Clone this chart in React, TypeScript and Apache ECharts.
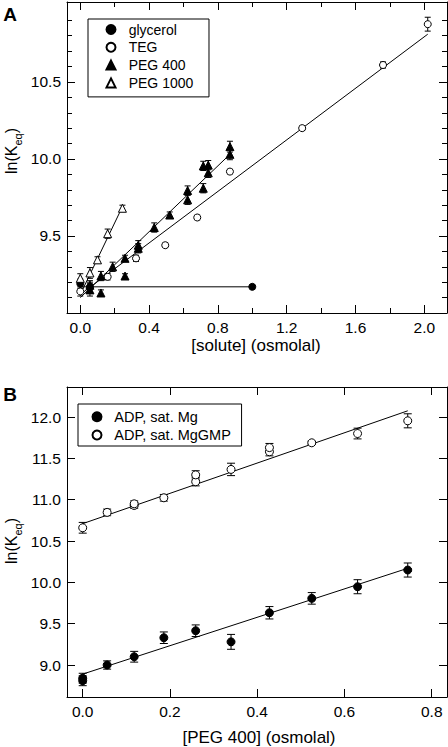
import React, { useEffect, useRef } from 'react';
import * as echarts from 'echarts';

const FONT = '"Liberation Sans", Arial, Helvetica, sans-serif';

// ---------- Panel A data ----------
const glycerolX = [0, 0.056, 1.0];
const glycerolY = [9.19, 9.17, 9.17];
const glycerolErr = [0.03, 0.03, 0.015];

const tegX = [0, 0.159, 0.324, 0.494, 0.68, 0.87, 1.29, 1.76, 2.02];
const tegY = [9.14, 9.235, 9.355, 9.44, 9.62, 9.918, 10.2, 10.61, 10.875];
const tegErr = [0.03, 0.02, 0.02, 0.015, 0.015, 0.015, 0.015, 0.02, 0.045];

const peg400X = [0.056, 0.056, 0.12, 0.12, 0.188, 0.26, 0.26, 0.337, 0.337, 0.43, 0.52, 0.624, 0.624, 0.715, 0.715, 0.744, 0.744, 0.87, 0.87];
const peg400Y = [9.18, 9.15, 9.24, 9.13, 9.3, 9.355, 9.24, 9.44, 9.42, 9.555, 9.636, 9.795, 9.735, 9.955, 9.81, 9.96, 9.91, 10.08, 10.03];
const peg400Err = [0.03, 0.04, 0.03, 0.02, 0.03, 0.02, 0.015, 0.03, 0.03, 0.03, 0.02, 0.03, 0.03, 0.03, 0.03, 0.03, 0.03, 0.035, 0.035];

const peg1000X = [0, 0.056, 0.1, 0.159, 0.245];
const peg1000Y = [9.225, 9.26, 9.345, 9.515, 9.68];
const peg1000Err = [0.03, 0.035, 0.02, 0.03, 0.02];

// fit lines (endpoints)
const glycerolFitX = [0, 1.0];
const glycerolFitY = [9.17, 9.17];
const tegFitX = [0, 2.02];
const tegFitY = [9.12, 10.81];
const peg400FitX = [0, 0.87];
const peg400FitY = [9.1, 10.03];
const peg1000FitX = [0, 0.245];
const peg1000FitY = [9.12, 9.69];

// ---------- Panel B data ----------
const mgX = [0, 0, 0.056, 0.118, 0.186, 0.259, 0.34, 0.428, 0.525, 0.63, 0.745];
const mgY = [8.81, 8.84, 9.0, 9.1, 9.33, 9.415, 9.28, 9.632, 9.806, 9.947, 10.149];
const mgErr = [0.06, 0.06, 0.05, 0.065, 0.07, 0.07, 0.09, 0.075, 0.07, 0.085, 0.085];

const gmpX = [0, 0.056, 0.118, 0.118, 0.186, 0.259, 0.259, 0.34, 0.428, 0.428, 0.525, 0.63, 0.745];
const gmpY = [10.66, 10.846, 10.93, 10.95, 11.023, 11.217, 11.3, 11.366, 11.58, 11.63, 11.688, 11.8, 11.954];
const gmpErr = [0.065, 0.04, 0.035, 0.035, 0.04, 0.05, 0.05, 0.075, 0.05, 0.05, 0.02, 0.065, 0.085];

const mgFitX = [0, 0.745];
const mgFitY = [8.89, 10.17];
const gmpFitX = [0, 0.745];
const gmpFitY = [10.71, 12.075];

// ---------- ticks ----------
const aXTicks = [0, 0.4, 0.8, 1.2, 1.6, 2.0];
const aXMinor = [0.2, 0.6, 1.0, 1.4, 1.8];
const aYTicks = [9.5, 10.0, 10.5];
const aYMinor = [9.1, 9.2, 9.3, 9.4, 9.6, 9.7, 9.8, 9.9, 10.1, 10.2, 10.3, 10.4, 10.6, 10.7, 10.8, 10.9];
const bXTicks = [0, 0.2, 0.4, 0.6, 0.8];
const bYTicks = [9.0, 9.5, 10.0, 10.5, 11.0, 11.5, 12.0];

const legendA = ['glycerol', 'TEG', 'PEG 400', 'PEG 1000'];
const legendB = ['ADP, sat. Mg', 'ADP, sat. MgGMP'];

const pairs = (xs: number[], ys: number[]) => xs.map((x, i) => [x, ys[i]]);

function axis(gridIndex: number, position: string, min: number, max: number, ticks: number[], labels: boolean, len: number, showLine: boolean) {
  return {
    type: 'value',
    gridIndex,
    position,
    min,
    max,
    scale: true,
    axisLine: { show: showLine, onZero: false, lineStyle: { color: '#000', width: 1 } },
    axisTick: { show: true, inside: true, length: len, customValues: ticks, lineStyle: { color: '#000', width: 1 } },
    axisLabel: labels
      ? { show: true, customValues: ticks, formatter: (v: number) => Number(v).toFixed(1), fontSize: 15.5, lineHeight: 16, fontFamily: FONT, color: '#000', margin: 6 }
      : { show: false },
    splitLine: { show: false },
    minorTick: { show: false },
  };
}

function errSeries(name: string, xs: number[], ys: number[], es: number[], xi: number, yi: number, cap: number) {
  return {
    type: 'custom',
    name,
    xAxisIndex: xi,
    yAxisIndex: yi,
    silent: true,
    z: 2,
    encode: { x: 0, y: 1 },
    data: xs.map((x, i) => [x, ys[i], es[i]]),
    renderItem: (params: any, api: any) => {
      const x = api.value(0);
      const y = api.value(1);
      const e = api.value(2);
      const top = api.coord([x, y + e]);
      const bot = api.coord([x, y - e]);
      const h = cap / 2;
      const st = { stroke: '#000', lineWidth: 1 };
      return {
        type: 'group',
        children: [
          { type: 'line', shape: { x1: top[0], y1: top[1], x2: bot[0], y2: bot[1] }, style: st },
          { type: 'line', shape: { x1: top[0] - h, y1: top[1], x2: top[0] + h, y2: top[1] }, style: st },
          { type: 'line', shape: { x1: bot[0] - h, y1: bot[1], x2: bot[0] + h, y2: bot[1] }, style: st },
        ],
      };
    },
  };
}

function scatter(name: string, xs: number[], ys: number[], xi: number, yi: number, symbol: string, size: number, filled: boolean) {
  return {
    type: 'scatter',
    name,
    xAxisIndex: xi,
    yAxisIndex: yi,
    data: pairs(xs, ys),
    symbol,
    symbolSize: size,
    symbolKeepAspect: true,
    z: 3,
    itemStyle: { color: filled ? '#000' : '#fff', borderColor: '#000', borderWidth: 1, opacity: 1 },
  };
}

function fit(name: string, xs: number[], ys: number[], xi: number, yi: number) {
  return {
    type: 'line',
    name,
    xAxisIndex: xi,
    yAxisIndex: yi,
    data: pairs(xs, ys),
    showSymbol: false,
    symbol: 'none',
    silent: true,
    z: 1,
    lineStyle: { color: '#000', width: 1 },
  };
}

const A_X = [-0.0773, 2.132];
const A_Y = [9.0, 11.019];
const B_X = [-0.036, 0.835];
const B_Y = [8.613, 12.363];

export default function App() {
  const ref = useRef<HTMLDivElement>(null);
  useEffect(() => {
    document.body.style.margin = '0';
    const chart = echarts.init(ref.current!, null, { renderer: 'svg' });
    const option: any = {
      animation: false,
      backgroundColor: '#fff',
      textStyle: { fontFamily: FONT },
      grid: [
        { left: 67, top: 2, width: 380, height: 311, outerBoundsMode: 'none', containLabel: false },
        { left: 67, top: 2, width: 380, height: 311, outerBoundsMode: 'none', containLabel: false },
        { left: 67, top: 387, width: 380, height: 310, outerBoundsMode: 'none', containLabel: false },
      ],
      xAxis: [
        axis(0, 'bottom', A_X[0], A_X[1], aXTicks, true, 8, true),
        axis(0, 'top', A_X[0], A_X[1], aXTicks, false, 8, true),
        axis(1, 'bottom', A_X[0], A_X[1], aXMinor, false, 5, false),
        axis(1, 'top', A_X[0], A_X[1], aXMinor, false, 5, false),
        axis(2, 'bottom', B_X[0], B_X[1], bXTicks, true, 8, true),
        axis(2, 'top', B_X[0], B_X[1], bXTicks, false, 8, true),
      ],
      yAxis: [
        axis(0, 'left', A_Y[0], A_Y[1], aYTicks, true, 8, true),
        axis(0, 'right', A_Y[0], A_Y[1], aYTicks, false, 8, true),
        axis(1, 'left', A_Y[0], A_Y[1], aYMinor, false, 5, false),
        axis(1, 'right', A_Y[0], A_Y[1], aYMinor, false, 5, false),
        axis(2, 'left', B_Y[0], B_Y[1], bYTicks, true, 8, true),
        axis(2, 'right', B_Y[0], B_Y[1], bYTicks, false, 8, true),
      ],
      legend: [
        {
          data: legendA,
          orient: 'vertical',
          left: 88,
          top: 19,
          padding: [2.5, 15.7, 6, 17.5],
          itemWidth: 9,
          itemHeight: 9,
          itemGap: 1.8,
          symbolKeepAspect: true,
          borderColor: '#000',
          borderWidth: 1,
          borderRadius: 0,
          selectedMode: false,
          textStyle: { fontSize: 14, fontFamily: FONT, color: '#000', lineHeight: 16, padding: [0, 0, 0, 8.2] },
        },
        {
          data: legendB,
          orient: 'vertical',
          left: 78,
          top: 404,
          padding: [4.7, 10.7, 3, 13.5],
          itemWidth: 9,
          itemHeight: 9,
          itemGap: 2.3,
          symbolKeepAspect: true,
          borderColor: '#000',
          borderWidth: 1,
          borderRadius: 0,
          selectedMode: false,
          textStyle: { fontSize: 14.5, fontFamily: FONT, color: '#000', lineHeight: 16, padding: [0, 0, 0, 7.8] },
        },
      ],
      series: [
        fit('glycerol fit', glycerolFitX, glycerolFitY, 0, 0),
        fit('TEG fit', tegFitX, tegFitY, 0, 0),
        fit('PEG 400 fit', peg400FitX, peg400FitY, 0, 0),
        fit('PEG 1000 fit', peg1000FitX, peg1000FitY, 0, 0),
        errSeries('glycerol err', glycerolX, glycerolY, glycerolErr, 0, 0, 6),
        errSeries('TEG err', tegX, tegY, tegErr, 0, 0, 6),
        errSeries('PEG 400 err', peg400X, peg400Y, peg400Err, 0, 0, 6),
        errSeries('PEG 1000 err', peg1000X, peg1000Y, peg1000Err, 0, 0, 6),
        scatter('glycerol', glycerolX, glycerolY, 0, 0, 'circle', 7, true),
        scatter('TEG', tegX, tegY, 0, 0, 'circle', 7, false),
        scatter('PEG 400', peg400X, peg400Y, 0, 0, 'triangle', 8, true),
        scatter('PEG 1000', peg1000X, peg1000Y, 0, 0, 'triangle', 8, false),

        fit('Mg fit', mgFitX, mgFitY, 4, 4),
        fit('MgGMP fit', gmpFitX, gmpFitY, 4, 4),
        errSeries('Mg err', mgX, mgY, mgErr, 4, 4, 8),
        errSeries('MgGMP err', gmpX, gmpY, gmpErr, 4, 4, 8),
        scatter('ADP, sat. Mg', mgX, mgY, 4, 4, 'circle', 8, true),
        scatter('ADP, sat. MgGMP', gmpX, gmpY, 4, 4, 'circle', 8, false),
      ],
      graphic: [
        { type: 'text', x: 10, y: 14, style: { text: 'A', fontSize: 19, fontWeight: 'bold', fontFamily: FONT, fill: '#000', align: 'center', verticalAlign: 'middle' } },
        { type: 'text', x: 10, y: 394, style: { text: 'B', fontSize: 19, fontWeight: 'bold', fontFamily: FONT, fill: '#000', align: 'center', verticalAlign: 'middle' } },
        { type: 'text', x: 256, y: 345, style: { text: '[solute] (osmolal)', fontSize: 17, lineHeight: 17, fontFamily: FONT, fill: '#000', align: 'center', verticalAlign: 'middle' } },
        { type: 'text', x: 259, y: 737, style: { text: '[PEG 400] (osmolal)', fontSize: 17, lineHeight: 17, fontFamily: FONT, fill: '#000', align: 'center', verticalAlign: 'middle' } },
        {
          type: 'text', x: 11, y: 151, rotation: Math.PI / 2,
          style: {
            text: 'ln(K{sub|eq})', fontSize: 16, fontFamily: FONT, fill: '#000', align: 'center', verticalAlign: 'middle', lineHeight: 24,
            rich: { sub: { fontSize: 11, fontFamily: FONT, fill: '#000', verticalAlign: 'bottom', lineHeight: 11 } },
          },
        },
        {
          type: 'text', x: 11, y: 541, rotation: Math.PI / 2,
          style: {
            text: 'ln(K{sub|eq})', fontSize: 16, fontFamily: FONT, fill: '#000', align: 'center', verticalAlign: 'middle', lineHeight: 24,
            rich: { sub: { fontSize: 11, fontFamily: FONT, fill: '#000', verticalAlign: 'bottom', lineHeight: 11 } },
          },
        },
      ],
    };
    chart.setOption(option);
    return () => chart.dispose();
  }, []);
  return <div ref={ref} style={{ position: 'fixed', left: 0, top: 0, width: 448, height: 747 }} />;
}
